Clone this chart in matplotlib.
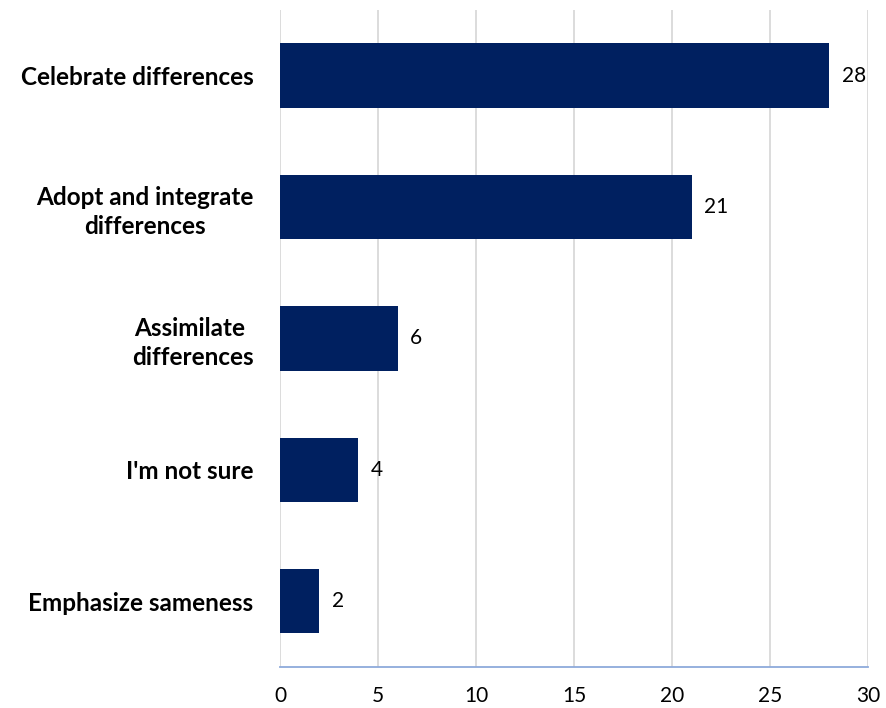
import matplotlib
matplotlib.use("Agg")
import matplotlib.pyplot as plt

categories = ["Celebrate differences", "Adopt and integrate\ndifferences",
              "Assimilate \ndifferences", "I'm not sure", "Emphasize sameness"]
values = [28, 21, 6, 4, 2]
x_ticks = [0, 5, 10, 15, 20, 25, 30]

plt.rcParams["font.family"] = ["Lato", "DejaVu Sans"]

fig = plt.figure(figsize=(8.86, 7.08), dpi=100)
ax = fig.add_axes([0.316, 0.058, 0.664, 0.928])

pos = list(range(len(categories)))
bars = ax.barh(pos, values, height=0.49, color="#002060", zorder=3)
ax.set_ylim(len(categories) - 0.5, -0.5)
ax.set_xlim(0, 30)
ax.set_xticks(x_ticks)
ax.set_yticks(pos)
ax.set_yticklabels(categories, fontsize=17.5, fontweight="bold",
                   multialignment="center", linespacing=1.3)
ax.tick_params(axis="y", length=0, pad=19)
ax.tick_params(axis="x", length=0, pad=14, labelsize=15)

ax.grid(axis="x", color="#d9d9d9", linewidth=1.3, zorder=0)
for s in ["top", "right", "left"]:
    ax.spines[s].set_visible(False)
ax.spines["bottom"].set_color("#8eaadb")
ax.spines["bottom"].set_linewidth(1.3)

for b, v in zip(bars, values):
    ax.annotate(str(v), (v, b.get_y() + b.get_height() / 2),
                xytext=(9, 0), textcoords="offset points",
                ha="left", va="center", fontsize=15)

fig.savefig("out.png", dpi=100)
